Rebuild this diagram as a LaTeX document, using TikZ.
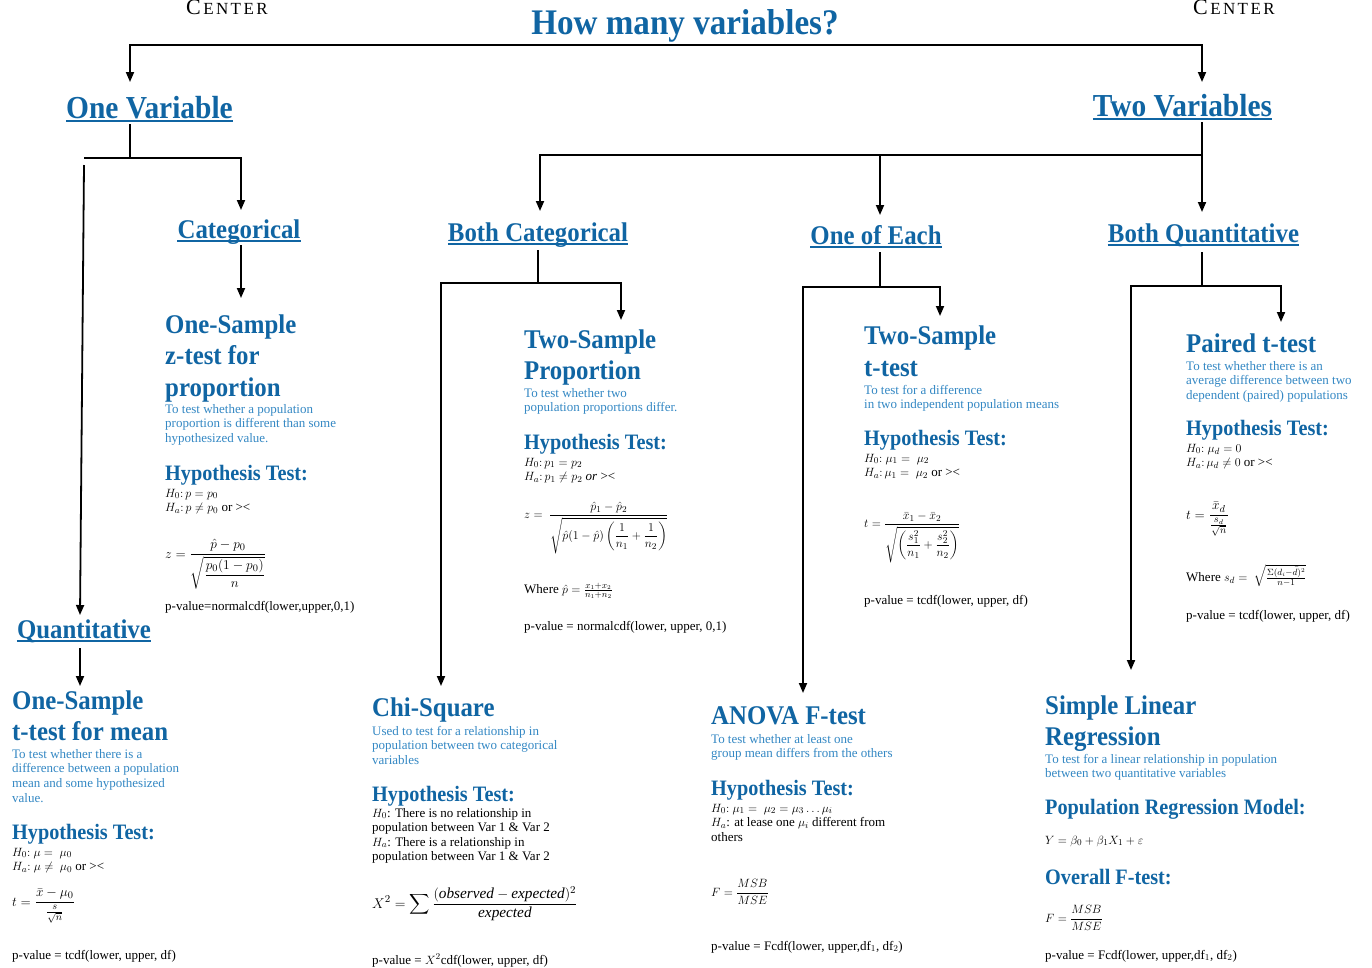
\documentclass[tikz,border=0pt]{standalone}
\usepackage{amsmath}
\usepackage{fontspec}
\setmainfont{Liberation Serif}
\newfontfamily\hfont[FakeStretch=0.92]{Liberation Serif}
\usetikzlibrary{arrows.meta}
\definecolor{hblue}{RGB}{16,101,163}
\definecolor{dblue}{RGB}{52,136,196}
\newcommand\mlines[1]{\parbox[t]{420pt}{\raggedright #1}}
\newcommand\gtlt{\textgreater\textless}
\newcommand\centerword{{\fontsize{22}{22}\selectfont C}\kern2.4pt{\fontsize{17}{17}\selectfont E\kern2.4pt N\kern2.4pt T\kern2.4pt E\kern2.4pt R}}
\tikzset{
  conn/.style={line width=1.8pt},
  arr/.style={line width=1.8pt,-{Triangle[length=10pt,width=8pt]}},
  ulc/.style={draw=hblue,line width=1.3pt},
  uh/.style={anchor=base,inner sep=0pt,text=hblue,font=\hfont\bfseries\fontsize{27}{30}\selectfont},
  uhbig/.style={uh,font=\hfont\bfseries\fontsize{32}{34}\selectfont},
  tt/.style={anchor=base west,inner sep=0pt,text=hblue,font=\hfont\bfseries\fontsize{27}{31.5}\selectfont},
  ht/.style={anchor=base west,inner sep=0pt,text=hblue,font=\hfont\bfseries\fontsize{22}{24}\selectfont},
  dsc/.style={anchor=base west,inner sep=0pt,text=dblue,font=\fontsize{13}{14.7}\selectfont},
  bd/.style={anchor=base west,inner sep=0pt,text=black,font=\fontsize{13}{14.5}\selectfont},
  fm/.style={bd,scale=1.12,transform shape},
}
\begin{document}
\begin{tikzpicture}[x=1pt,y=-1pt]
\useasboundingbox (0,0) rectangle (1372,967);
\fill[white] (0,0) rectangle (1372,967);

% header
\node[anchor=base west,inner sep=0pt] (cL) at (186,14) {\centerword};
\node[anchor=base west,inner sep=0pt] (cR) at (1193,14) {\centerword};
\node[anchor=base,inner sep=0pt,text=hblue,font=\hfont\bfseries\fontsize{36}{40}\selectfont] (title) at (685,34) {How many variables?};

% level headings
\node[uhbig] (onevar) at (149.5,118) {One Variable};
\node[uhbig] (twovar) at (1182.5,116) {Two Variables};
\node[uh] (cat) at (239,238) {Categorical};
\node[uh] (quant) at (84,638) {Quantitative};
\node[uh] (bc) at (538,241) {Both Categorical};
\node[uh] (oe) at (876,244) {One of Each};
\node[uh] (bq) at (1203.5,242) {Both Quantitative};
\foreach \n in {onevar,twovar,cat,quant,bc,oe,bq}
  \draw[ulc] ([yshift=-3pt]\n.base west) -- ([yshift=-3pt]\n.base east);

% junctions and arrow ends
\coordinate (tb) at (685,45);
\coordinate (ovIn) at (130,82);
\coordinate (tvIn) at (1202,82);
\coordinate (j1) at (130,158);
\coordinate (j1L) at (84,158);
\coordinate (qTop) at (84,165);
\coordinate (qIn) at (80,615);
\coordinate (catIn) at (241,210);
\coordinate (zIn) at (241,298);
\coordinate (tIn) at (80,686);
\coordinate (j2) at (1202,155);
\coordinate (bcIn) at (540,211);
\coordinate (oeIn) at (880,215);
\coordinate (bqIn) at (1202,212);
\coordinate (j3) at (538,283);
\coordinate (tpIn) at (621,320);
\coordinate (chiIn) at (441,686);
\coordinate (j4) at (880,287);
\coordinate (ttIn) at (940,316);
\coordinate (anIn) at (803,693);
\coordinate (j5) at (1202,286);
\coordinate (ptIn) at (1281,322);
\coordinate (slIn) at (1131,670);

% connectors
\draw[conn,line width=2.4pt] (tb -| ovIn) -- (tb -| tvIn);
\draw[arr] (tb) -| (ovIn);
\draw[arr] (tb) -| (tvIn);
\draw[conn] ([yshift=-6pt]onevar.base -| j1) -- (j1);
\draw[conn] (j1) -- (j1L);
\draw[arr] (j1) -| (catIn);
\draw[arr] (qTop) -- (qIn);
\draw[arr] ([yshift=-7pt]cat.base -| zIn) -- (zIn);
\draw[arr] ([yshift=-10pt]quant.base -| tIn) -- (tIn);
\draw[conn] ([yshift=-6pt]twovar.base -| j2) -- (j2);
\draw[arr] (j2) -| (bcIn);
\draw[arr] (j2 -| oeIn) -- (oeIn);
\draw[arr] (j2) -- (bqIn);
\draw[conn] ([yshift=-9pt]bc.base -| j3) -- (j3);
\draw[arr] (j3) -| (tpIn);
\draw[arr] (j3) -| (chiIn);
\draw[conn] ([yshift=-8pt]oe.base -| j4) -- (j4);
\draw[arr] (j4) -| (ttIn);
\draw[arr] (j4) -| (anIn);
\draw[conn] ([yshift=-10pt]bq.base -| j5) -- (j5);
\draw[arr] (j5) -| (ptIn);
\draw[arr] (j5) -| (slIn);

% One-sample z-test for proportion
\node[tt] (zT) at (165,333) {\mlines{One-Sample\\z-test for\\proportion}};
\node[dsc] (zD) at (165,413) {\mlines{To test whether a population\\proportion is different than some\\hypothesized value.}};
\node[ht] (zH) at (165,480) {Hypothesis Test:};
\node[bd] (zHy) at (165,497) {\mlines{$H_0{:}\,p=p_0$\\$H_a{:}\,p\neq p_0$ or \gtlt}};
\node[fm] (zF) at (165,558) {$\displaystyle z=\frac{\hat{p}-p_0}{\sqrt{\dfrac{p_0(1-p_0)}{n}}}$};
\node[bd] (zP) at (165,610) {p-value=normalcdf(lower,upper,0,1)};

% One-sample t-test for mean
\node[tt] (tT) at (12,709) {\mlines{One-Sample\\t-test for mean}};
\node[dsc] (tD) at (12,758) {\mlines{To test whether there is a\\difference between a population\\mean and some hypothesized\\value.}};
\node[ht] (tH) at (12,839) {Hypothesis Test:};
\node[bd] (tHy) at (12,856) {\mlines{$H_0{:}\ \mu=\ \mu_0$\\$H_a{:}\ \mu\neq\ \mu_0$ or \gtlt}};
\node[fm] (tF) at (12,906) {$\displaystyle t=\frac{\bar{x}-\mu_0}{\frac{s}{\sqrt{n}}}$};
\node[bd] (tP) at (12,959) {p-value = tcdf(lower, upper, df)};

% Two-sample proportion
\node[tt] (pT) at (524,348) {\mlines{Two-Sample\\Proportion}};
\node[dsc] (pD) at (524,397) {\mlines{To test whether two\\population proportions differ.}};
\node[ht] (pH) at (524,449) {Hypothesis Test:};
\node[bd] (pHy) at (524,466) {\mlines{$H_0{:}\,p_1=p_2$\\$H_a{:}\,p_1\neq p_2$ \textit{or} \gtlt}};
\node[bd] (pF) at (524,518.5) {$\displaystyle z=\ \frac{\hat{p}_1-\hat{p}_2}{\sqrt{\hat{p}(1-\hat{p})\left(\dfrac{1}{n_1}+\dfrac{1}{n_2}\right)}}$};
\node[bd] (pW) at (524,593) {Where $\hat{p}=\frac{x_1+x_2}{n_1+n_2}$};
\node[bd] (pP) at (524,630) {p-value = normalcdf(lower, upper, 0,1)};

% Two-sample t-test
\node[tt] (sT) at (864,344) {\mlines{Two-Sample\\[0.5pt]t-test}};
\node[dsc] (sD) at (864,394) {\mlines{To test for a difference\\in two independent population means}};
\node[ht] (sH) at (864,445) {Hypothesis Test:};
\node[bd] (sHy) at (864,462) {\mlines{$H_0{:}\ \mu_1=\ \mu_2$\\$H_a{:}\,\mu_1=\ \mu_2$ or \gtlt}};
\node[bd] (sF) at (864,527.5) {$\displaystyle t=\frac{\bar{x}_1-\bar{x}_2}{\sqrt{\left(\dfrac{s_1^2}{n_1}+\dfrac{s_2^2}{n_2}\right)}}$};
\node[bd] (sP) at (864,604) {p-value = tcdf(lower, upper, df)};

% Paired t-test
\node[tt] (dT) at (1186,352) {Paired t-test};
\node[dsc] (dD) at (1186,370) {\mlines{To test whether there is an\\average difference between two\\dependent (paired) populations}};
\node[ht] (dH) at (1186,435) {Hypothesis Test:};
\node[bd] (dHy) at (1186,452) {\mlines{$H_0{:}\ \mu_d=0$\\$H_a{:}\,\mu_d\neq0$ or \gtlt}};
\node[fm] (dF) at (1186,519) {$\displaystyle t=\frac{\bar{x}_d}{\frac{s_d}{\sqrt{n}}}$};
\node[bd] (dW) at (1186,581) {Where $s_d=\ \sqrt{\frac{\Sigma(d_i-\bar{d})^2}{n-1}}$};
\node[bd] (dP) at (1186,619) {p-value = tcdf(lower, upper, df)};

% Chi-square
\node[tt] (cT) at (372,716) {Chi-Square};
\node[dsc] (cD) at (372,735) {\mlines{Used to test for a relationship in\\population between two categorical\\variables}};
\node[ht] (cH) at (372,801) {Hypothesis Test:};
\node[bd] (cHy) at (372,817) {\mlines{$H_0$: There is no relationship in\\population between Var 1 \& Var 2\\$H_a$: There is a relationship in\\population between Var 1 \& Var 2}};
\node[fm,scale=1.05] (cF) at (372,908) {$\displaystyle X^2=\sum\frac{(\mathit{observed}-\mathit{expected})^2}{\mathit{expected}}$};
\node[bd] (cP) at (372,964) {p-value = $X^2$cdf(lower, upper, df)};

% ANOVA
\node[tt] (aT) at (711,724) {ANOVA F-test};
\node[dsc] (aD) at (711,743) {\mlines{To test whether at least one\\group mean differs from the others}};
\node[ht] (aH) at (711,795) {Hypothesis Test:};
\node[bd] (aHy) at (711,812) {\mlines{$H_0{:}\ \mu_1=\ \mu_2=\mu_3\ldots\mu_i$\\$H_a$: at lease one $\mu_i$ different from\\others}};
\node[bd] (aF) at (711,896) {$\displaystyle F=\frac{MSB}{MSE}$};
\node[bd] (aP) at (711,950) {p-value = Fcdf(lower, upper,df$_1$, df$_2$)};

% Simple linear regression
\node[tt] (rT) at (1045,714) {\mlines{Simple Linear\\Regression}};
\node[dsc] (rD) at (1045,763) {\mlines{To test for a linear relationship in population\\between two quantitative variables}};
\node[ht] (rH) at (1045,814) {Population Regression Model:};
\node[bd] (rM) at (1045,844) {$Y=\beta_0+\beta_1X_1+\varepsilon$};
\node[ht] (rO) at (1045,884) {Overall F-test:};
\node[bd] (rF) at (1045,922) {$\displaystyle F=\frac{MSB}{MSE}$};
\node[bd] (rP) at (1045,959) {p-value = Fcdf(lower, upper,df$_1$, df$_2$)};
\end{tikzpicture}
\end{document}
